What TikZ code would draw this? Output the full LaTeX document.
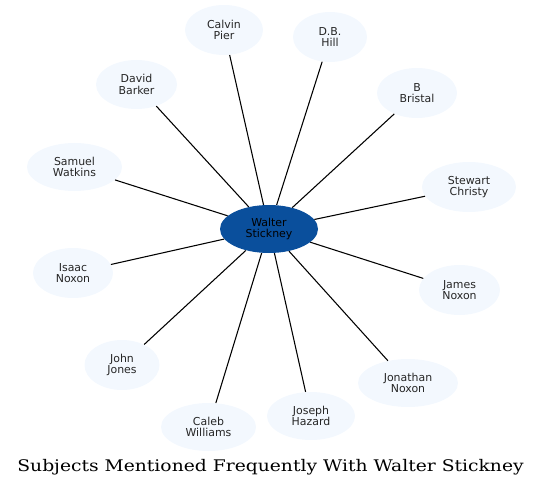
\documentclass[tikz,border=0pt]{standalone}
\usepackage{fontspec}
\usetikzlibrary{shapes.geometric}
\newfontfamily\nodefont{DejaVu Sans}
\newfontfamily\titlefont[FakeStretch=1.17]{DejaVu Serif}
\definecolor{outerfill}{HTML}{F3F8FE}
\definecolor{centerfill}{HTML}{0A4F9C}
\tikzset{
  person/.style={ellipse, fill=outerfill, draw=none, inner sep=0pt, align=center,
    font=\nodefont\fontsize{8.2}{8.6}\selectfont, text=black!85},
  hub/.style={person, fill=centerfill, text=black},
  sz/.style n args={2}{minimum width=#1*0.75pt, minimum height=#2*0.75pt},
  link/.style={draw=black, line width=0.8pt}
}
\begin{document}
\begin{tikzpicture}[x=0.75pt, y=-0.75pt]
\useasboundingbox (0,0) rectangle (541,488);
\node[hub, sz={98}{48}] (w) at (269,229) {Walter\\Stickney};
\node[person, sz={78}{50}] (calvin) at (224,30) {Calvin\\Pier};
\node[person, sz={74}{50}] (db) at (330,37) {D.B.\\Hill};
\node[person, sz={80}{50}] (bristal) at (417,93) {B\\Bristal};
\node[person, sz={94}{50}] (stewart) at (469,187) {Stewart\\Christy};
\node[person, sz={81}{50}] (james) at (459.5,290) {James\\Noxon};
\node[person, sz={100}{48}] (jonathan) at (408,383) {Jonathan\\Noxon};
\node[person, sz={88}{48}] (joseph) at (311,416) {Joseph\\Hazard};
\node[person, sz={95}{48}] (caleb) at (208.5,427) {Caleb\\Williams};
\node[person, sz={75}{50}] (john) at (122,365) {John\\Jones};
\node[person, sz={80}{50}] (isaac) at (73,273) {Isaac\\Noxon};
\node[person, sz={95}{48}] (samuel) at (74.5,167) {Samuel\\Watkins};
\node[person, sz={81}{49}] (david) at (136.5,84.5) {David\\Barker};
\foreach \n in {calvin,db,bristal,stewart,james,jonathan,joseph,caleb,john,isaac,samuel,david}
  \draw[link] (w) -- (\n);
\node[anchor=base, inner sep=0pt, font=\titlefont\fontsize{12}{14}\selectfont] (title) at (270.5,471.7) {Subjects Mentioned Frequently With Walter Stickney};
\end{tikzpicture}
\end{document}
